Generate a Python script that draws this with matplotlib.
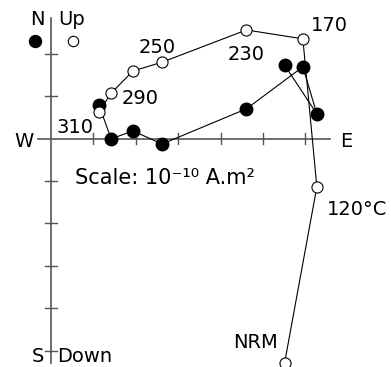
import matplotlib
matplotlib.use('Agg')
import matplotlib.pyplot as plt

# demagnetisation steps (thermal), Zijderveld projection, 1 unit = 1e-10 A.m2
steps = ['NRM', '120°C', '170', '230', '250', '270', '290', '310']
east = [5.51, 6.27, 5.94, 4.61, 2.62, 1.93, 1.42, 1.13]
north = [1.73, 0.58, 1.69, 0.70, -0.13, 0.18, -0.01, 0.79]
up = [-5.29, -1.14, 2.35, 2.56, 1.80, 1.59, 1.07, 0.63]

# label offsets (points) for the open-circle series, '' = no label
label_off = {'NRM': (-20.9, 10.8), '120°C': (28.8, -20.2), '170': (19.4, 5.8),
             '230': (0, -21.6), '250': (-3.6, 6.5), '290': (20.9, -7.9),
             '310': (-17.3, -15.1)}

# --- figure: one data unit = 42.4 px, origin at pixel (51, 138.5) ---
u = 42.4
fig = plt.figure(figsize=(3.91, 3.67), dpi=100)
ax = fig.add_axes([0, 0, 1, 1])
ax.set_xlim(-51 / u, (391 - 51) / u)
ax.set_ylim(-(367 - 138.5) / u, 138.5 / u)
ax.axis('off')

FS = 14
axc = '#555555'
tk = 0.14

# axes cross
ax.plot([-0.307, 6.58], [0, 0], color=axc, lw=1.2, zorder=1)
ax.plot([0, 0], [-5.29, 2.84], color=axc, lw=1.2, zorder=1)
for i in range(1, 7):
    ax.plot([i, i], [-tk, tk], color=axc, lw=1.0, zorder=1)
for j in [2, 1, -1, -2, -3, -4, -5]:
    ax.plot([-tk, tk], [j, j], color=axc, lw=1.0, zorder=1)

ax.text(-0.33, 2.677, 'N', fontsize=FS, ha='center', va='baseline')
ax.text(0.483, 2.677, 'Up', fontsize=FS, ha='center', va='baseline')
ax.text(-0.637, -0.20, 'W', fontsize=FS, ha='center', va='baseline')
ax.text(6.958, -0.20, 'E', fontsize=FS, ha='center', va='baseline')
ax.text(-0.307, -5.271, 'S', fontsize=FS, ha='center', va='baseline')
ax.text(0.80, -5.271, 'Down', fontsize=FS, ha='center', va='baseline')
ax.text(0.566, -1.073, 'Scale: 10⁻¹⁰ A.m²', fontsize=15, ha='left', va='baseline')

# legend symbols
ax.plot(-0.377, 2.30, 'o', ms=8.6, mfc='black', mec='black', zorder=5)
ax.plot(0.519, 2.30, 'o', ms=7.5, mfc='white', mec='black', mew=0.8, zorder=5)

# horizontal projection (filled) then vertical projection (open)
ax.plot(east, north, '-', color='black', lw=0.8, zorder=2)
ax.plot(east, north, 'o', ms=9, mfc='black', mec='black', zorder=3)
ax.plot(east, up, '-', color='black', lw=0.8, zorder=4)
ax.plot(east, up, 'o', ms=8, mfc='white', mec='black', mew=0.8, zorder=5)

for s, x, y in zip(steps, east, up):
    if s in label_off:
        ax.annotate(s, (x, y), xytext=label_off[s], textcoords='offset points',
                    fontsize=FS, ha='center', va='baseline')

fig.savefig('out.png', dpi=100)
